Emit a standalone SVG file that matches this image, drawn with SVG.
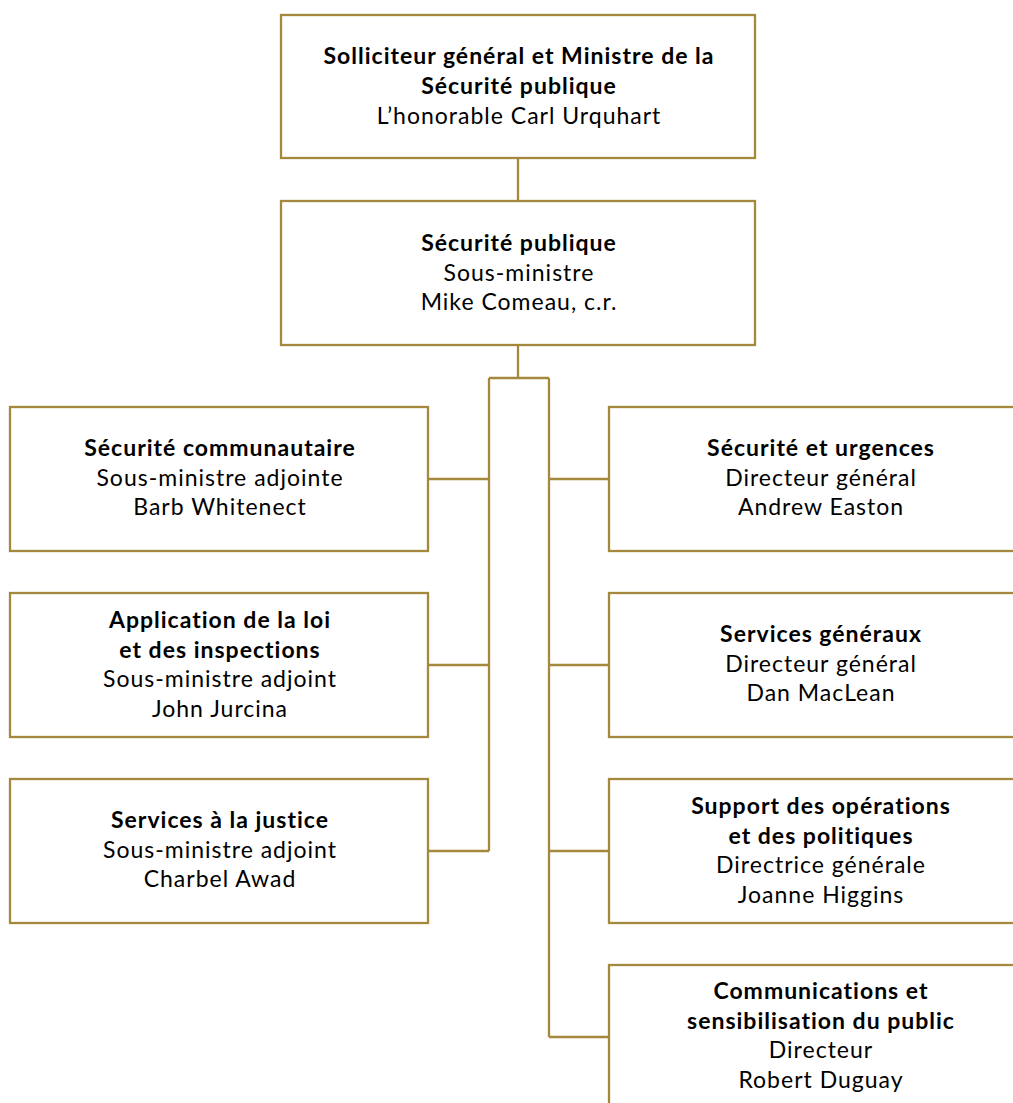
<svg xmlns="http://www.w3.org/2000/svg" width="1013" height="1103" viewBox="0 0 1013 1103">
<style>
.box{fill:#fff;stroke:#A4893D;stroke-width:2.3}
.con{fill:none;stroke:#A4893D;stroke-width:2.3}
text{font-family:Lato,"Open Sans","Liberation Sans",sans-serif;font-size:23px;letter-spacing:1px;fill:#000;text-anchor:middle}
.b{font-weight:bold}
</style>
<rect width="1013" height="1103" fill="#fff"/>
<g id="connectors">
<path class="con" d="M518 158V201M518 345V378M489 378H549M489 378V851M549 378V1037M428 479H489M428 665H489M428 851H489M549 479H609M549 665H609M549 851H609M549 1037H609"/>
</g>
<g id="n-ministre">
<rect class="box" x="281" y="15" width="474" height="143"/>
<text x="519" y="64" class="b">Solliciteur général et Ministre de la</text>
<text x="519" y="94" class="b">Sécurité publique</text>
<text x="519" y="124">L’honorable Carl Urquhart</text>
</g>
<g id="n-securite-publique">
<rect class="box" x="281" y="201" width="474" height="144"/>
<text x="519" y="251" class="b">Sécurité publique</text>
<text x="519" y="281">Sous-ministre</text>
<text x="519" y="310">Mike Comeau, c.r.</text>
</g>
<g id="n-communautaire">
<rect class="box" x="10" y="407" width="418" height="144"/>
<text x="220" y="456" class="b">Sécurité communautaire</text>
<text x="220" y="486">Sous-ministre adjointe</text>
<text x="220" y="515">Barb Whitenect</text>
</g>
<g id="n-application">
<rect class="box" x="10" y="593" width="418" height="144"/>
<text x="220" y="628" class="b">Application de la loi</text>
<text x="220" y="658" class="b">et des inspections</text>
<text x="220" y="687">Sous-ministre adjoint</text>
<text x="220" y="717">John Jurcina</text>
</g>
<g id="n-justice">
<rect class="box" x="10" y="779" width="418" height="144"/>
<text x="220" y="828" class="b">Services à la justice</text>
<text x="220" y="858">Sous-ministre adjoint</text>
<text x="220" y="887">Charbel Awad</text>
</g>
<g id="n-urgences">
<rect class="box" x="609" y="407" width="430" height="144"/>
<text x="821" y="456" class="b">Sécurité et urgences</text>
<text x="821" y="486">Directeur général</text>
<text x="821" y="515">Andrew Easton</text>
</g>
<g id="n-services-generaux">
<rect class="box" x="609" y="593" width="430" height="144"/>
<text x="821" y="642" class="b">Services généraux</text>
<text x="821" y="672">Directeur général</text>
<text x="821" y="701">Dan MacLean</text>
</g>
<g id="n-support">
<rect class="box" x="609" y="779" width="430" height="144"/>
<text x="821" y="814" class="b">Support des opérations</text>
<text x="821" y="844" class="b">et des politiques</text>
<text x="821" y="873">Directrice générale</text>
<text x="821" y="903">Joanne Higgins</text>
</g>
<g id="n-communications">
<rect class="box" x="609" y="965" width="430" height="150"/>
<text x="821" y="999" class="b">Communications et</text>
<text x="821" y="1029" class="b">sensibilisation du public</text>
<text x="821" y="1058">Directeur</text>
<text x="821" y="1088">Robert Duguay</text>
</g>
</svg>
